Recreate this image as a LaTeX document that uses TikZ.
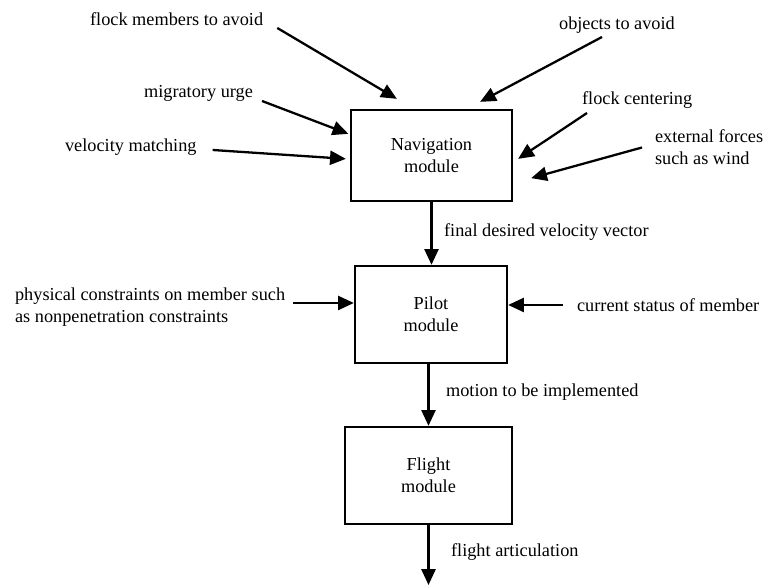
\documentclass[tikz,border=0pt]{standalone}
\usepackage{fontspec}
\setmainfont{Liberation Serif}
\usetikzlibrary{arrows.meta}

\begin{document}
\begin{tikzpicture}[every node/.style={font=\fontsize{10.4}{12.5}\selectfont},
  module/.style={draw, line width=1.3pt, align=center, minimum height=1.94cm},
  lbl/.style={anchor=west, inner sep=1pt, align=left},
  flow/.style={line width=1.3pt, -{Triangle[length=9pt, width=8pt]}}]
  \useasboundingbox (0,0) rectangle (15.32,11.7);
  \node[module, minimum width=3.22cm, minimum height=1.82cm] (nav) at (8.63,8.59) {Navigation\\module};
  \node[module, minimum width=3.04cm] (pilot) at (8.62,5.41) {Pilot\\module};
  \node[module, minimum width=3.34cm] (flight) at (8.57,2.19) {Flight\\module};
  \node[lbl] (fm) at (1.76,11.32) {flock members to avoid};
  \node[lbl] (obj) at (11.14,11.2) {objects to avoid};
  \node[lbl] (mig) at (2.84,9.84) {migratory urge};
  \node[lbl] (fc) at (11.6,9.7) {flock centering};
  \node[lbl] (vm) at (1.26,8.76) {velocity matching};
  \node[lbl] (ext) at (13.06,8.75) {external forces\\such as wind};
  \node[lbl] (fdv) at (8.84,7.06) {final desired velocity vector};
  \node[lbl] (phys) at (0.26,5.55) {physical constraints on member such\\as nonpenetration constraints};
  \node[lbl] (cur) at (11.5,5.6) {current status of member};
  \node[lbl] (mot) at (8.88,3.86) {motion to be implemented};
  \node[lbl] (fa) at (8.98,0.66) {flight articulation};
  \coordinate (out) at (8.57,0);
  \draw[flow] ([shift={(0.24,-0.18)}]fm.east) -- ([shift={(0.94,0.2)}]nav.north west);
  \draw[flow] ([shift={(0.9,-0.24)}]obj.west) -- ([shift={(-0.66,0.14)}]nav.north east);
  \draw[flow] ([shift={(0.14,-0.16)}]mig.east) -- ([shift={(-0.03,-0.5)}]nav.north west);
  \draw[flow] ([shift={(0.28,-0.06)}]vm.east) -- ([shift={(-0.08,-1.0)}]nav.north west);
  \draw[flow] ([shift={(0.14,-0.26)}]fc.west) -- ([shift={(0.1,-1.0)}]nav.north east);
  \draw[flow] ([xshift=-0.22cm]ext.west) -- ([shift={(0.36,0.48)}]nav.south east);
  \draw[flow] (nav.south) -- (nav.south |- pilot.north);
  \draw[flow] ([shift={(0.12,0.09)}]phys.east) -- ([yshift=0.23cm]pilot.west);
  \draw[flow] ([xshift=-0.24cm]cur.west) -- (cur.west -| pilot.east);
  \draw[flow] (flight.north |- pilot.south) -- (flight.north);
  \draw[flow] (flight) -- (out);
\end{tikzpicture}
\end{document}
